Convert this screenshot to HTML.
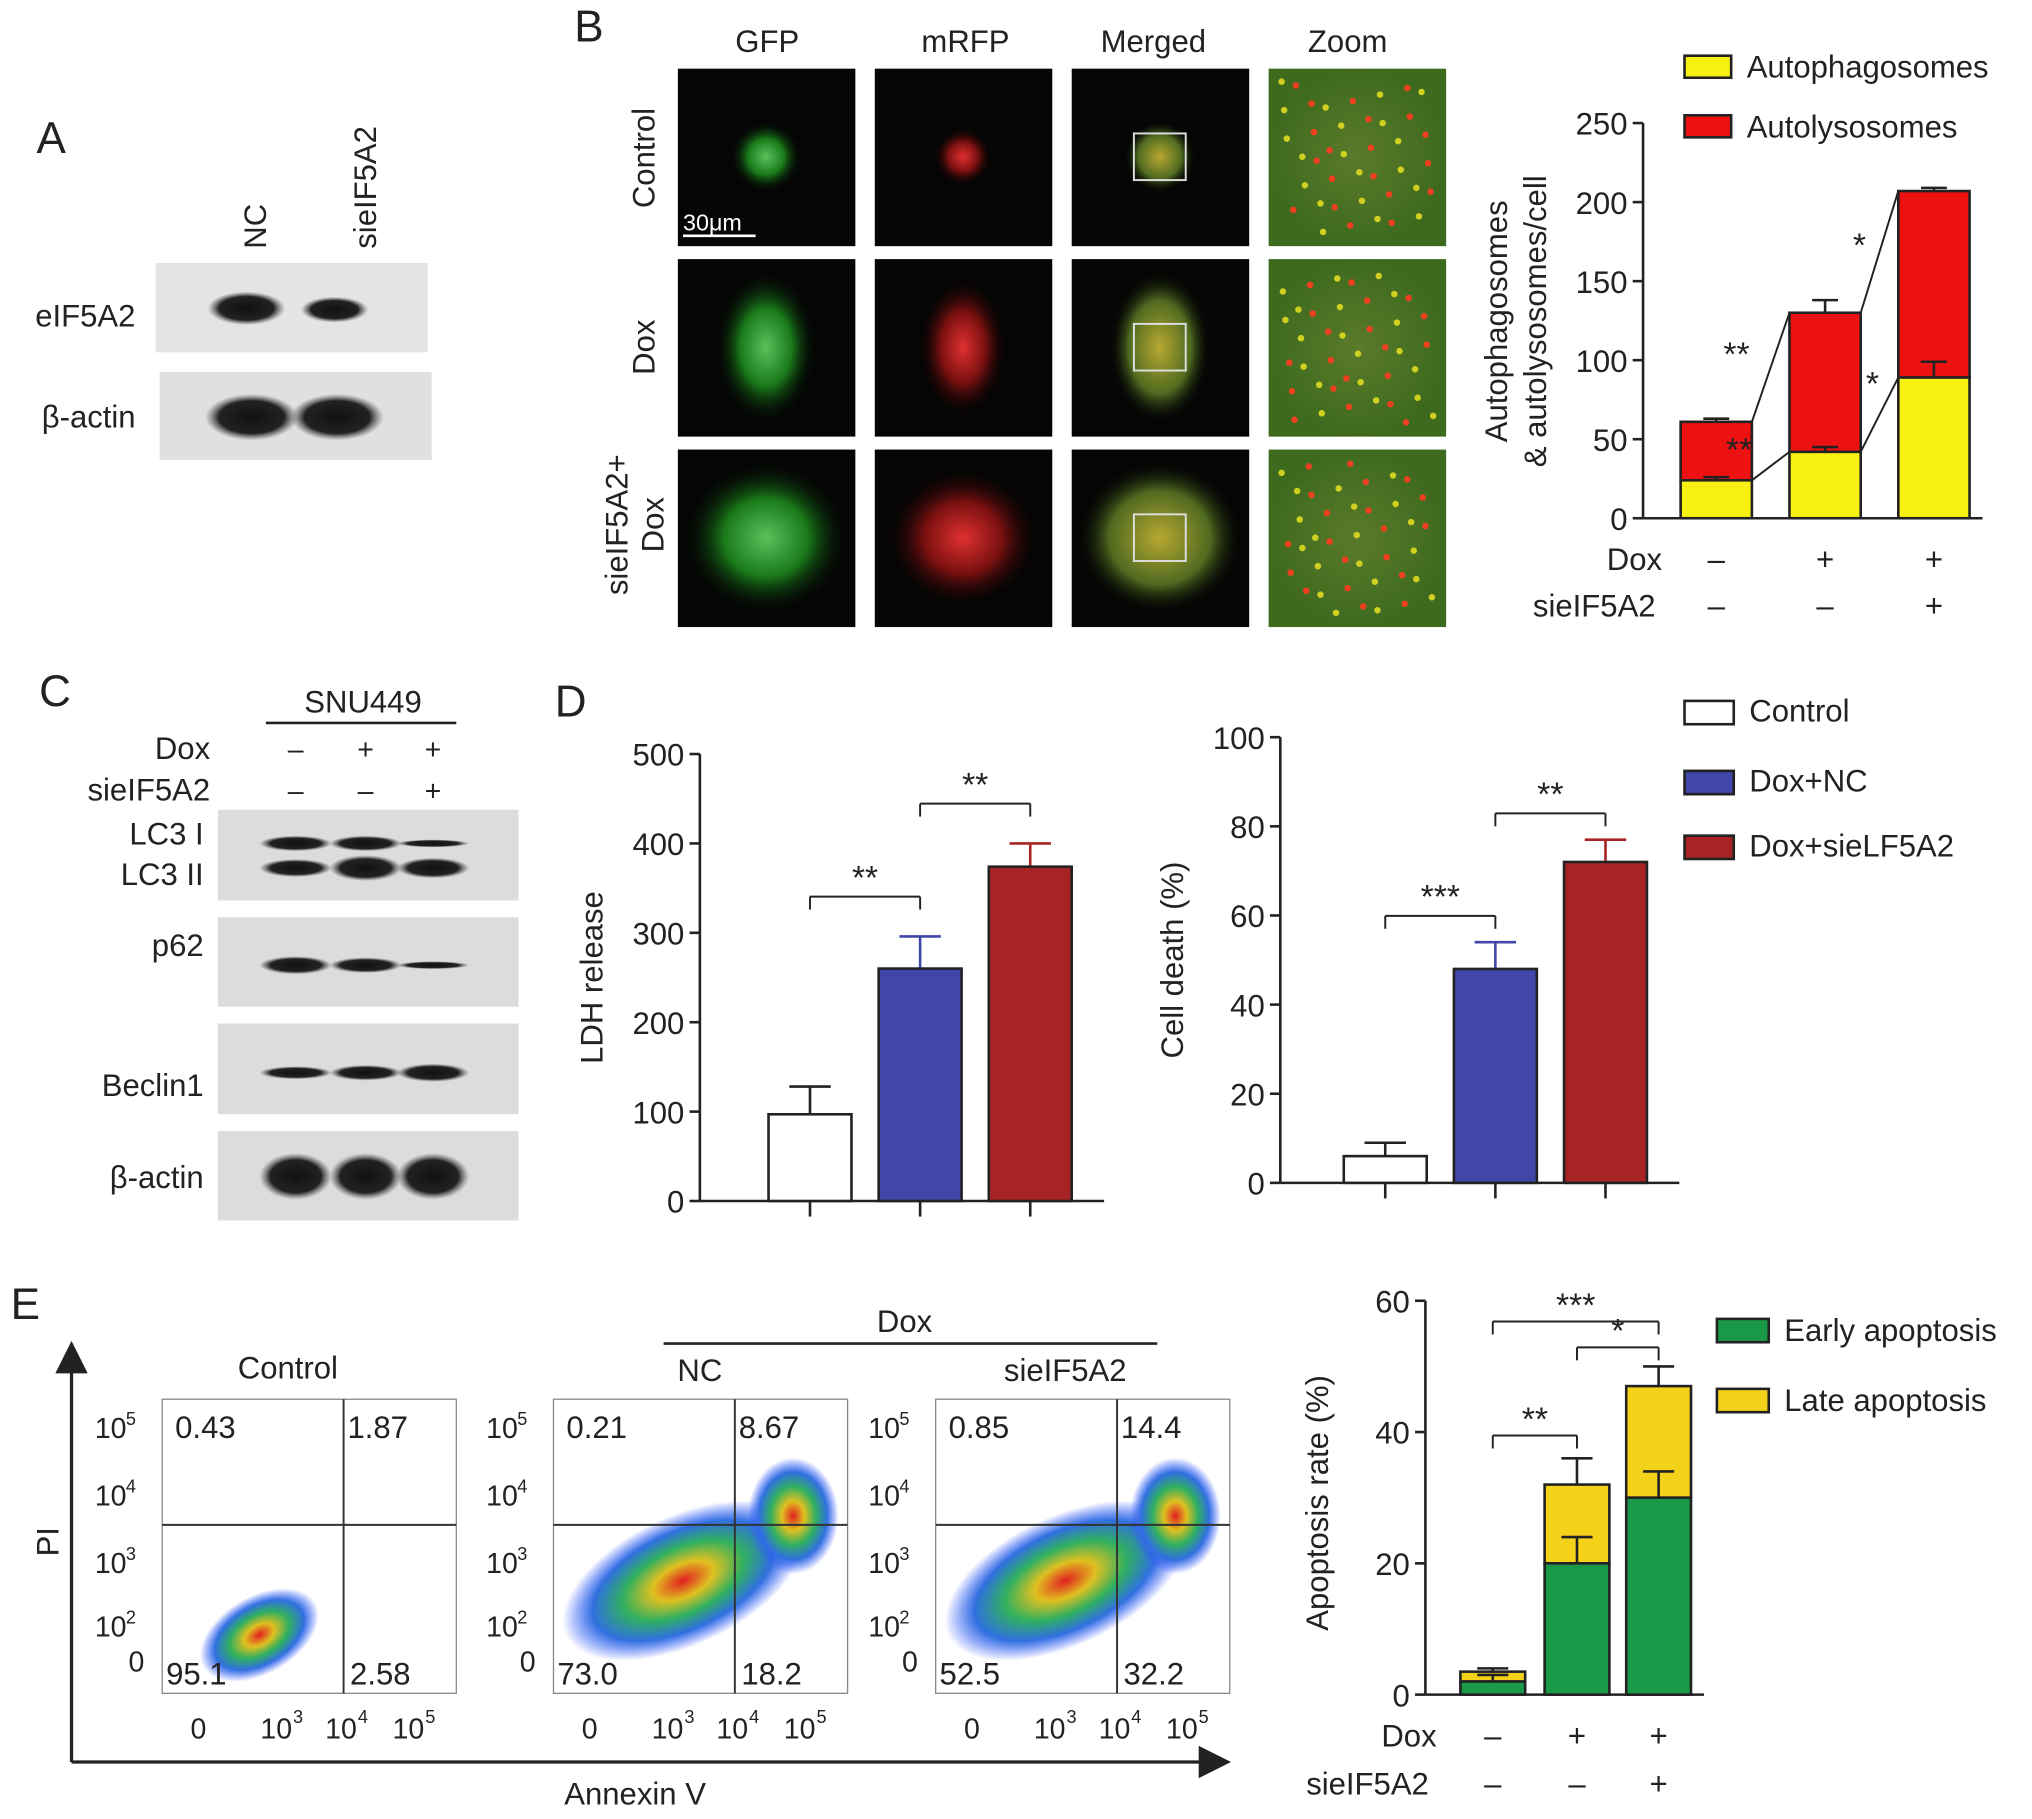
<!DOCTYPE html>
<html><head><meta charset="utf-8">
<style>
html,body{margin:0;padding:0;background:#fff;}
svg{display:block;font-family:"Liberation Sans",Arial,sans-serif;}
</style></head>
<body>
<svg id="fig" width="2032" height="1819" viewBox="0 0 1568 1404" xmlns="http://www.w3.org/2000/svg">
<defs>
 <radialGradient id="gblob"><stop offset="0" stop-color="#5cc05c"/><stop offset="0.5" stop-color="#1a7a1a"/><stop offset="1" stop-color="#000" stop-opacity="0"/></radialGradient>
 <radialGradient id="rblob"><stop offset="0" stop-color="#e03030"/><stop offset="0.5" stop-color="#7a1010"/><stop offset="1" stop-color="#000" stop-opacity="0"/></radialGradient>
 <radialGradient id="yblob"><stop offset="0" stop-color="#b8a830"/><stop offset="0.6" stop-color="#4f6a20"/><stop offset="1" stop-color="#000" stop-opacity="0"/></radialGradient>
 <radialGradient id="zoomg"><stop offset="0" stop-color="#5a7a2a"/><stop offset="1" stop-color="#3e6a1e"/></radialGradient>
 <radialGradient id="band"><stop offset="0" stop-color="#111"/><stop offset="0.7" stop-color="#222"/><stop offset="1" stop-color="#555" stop-opacity="0"/></radialGradient>
 <radialGradient id="flow"><stop offset="0" stop-color="#e02020"/><stop offset="0.25" stop-color="#e0c020"/><stop offset="0.5" stop-color="#30b060"/><stop offset="0.75" stop-color="#3070e0"/><stop offset="1" stop-color="#3050ff" stop-opacity="0"/></radialGradient>
 <marker id="arr" markerWidth="10" markerHeight="10" refX="8" refY="5" orient="auto"><path d="M0,0 L10,5 L0,10 z" fill="#222"/></marker>
</defs>
<g id="root"></g>
</svg>
<script>
// ---- chart data ----
const bCategories = ["Control","Dox","sieIF5A2+Dox"];
const bAutophagosomes = [24, 42, 89];
const bAutophagosomesErr = [26, 45, 99];
const bTotal = [61, 130, 207];
const bTotalErr = [63, 138, 209];
const bTicks = [0,50,100,150,200,250];

const ldhValues = [97, 260, 374];
const ldhErr = [128, 296, 400];
const ldhTicks = [0,100,200,300,400,500];

const deathValues = [6, 48, 72];
const deathErr = [9, 54, 77];
const deathTicks = [0,20,40,60,80,100];

const eEarly = [2, 20, 30];
const eEarlyErr = [3, 24, 34];
const eTotal = [3.5, 32, 47];
const eTotalErr = [4, 36, 50];
const eTicks = [0,20,40,60];

const flowQuads = [["0.43","1.87","95.1","2.58"],["0.21","8.67","73.0","18.2"],["0.85","14.4","52.5","32.2"]];

const NS="http://www.w3.org/2000/svg";
const root=document.getElementById('root');
function el(tag,attrs,parent,txt){const e=document.createElementNS(NS,tag);for(const k in attrs)e.setAttribute(k,attrs[k]);if(txt!==undefined)e.textContent=txt;(parent||root).appendChild(e);return e;}
function T(x,y,s,size,opt){opt=opt||{};const e=el('text',{x:x,y:y,'font-size':size,fill:opt.fill||'#222','text-anchor':opt.anchor||'start'},opt.parent,s);if(opt.rot)e.setAttribute('transform',`rotate(${opt.rot} ${x} ${y})`);return e;}
function L(x1,y1,x2,y2,w,c,p){const e=el('line',{x1,y1,x2,y2,stroke:c||'#222','stroke-width':w||2},p);return e;}
function R(x,y,w,h,f,s,p){const e=el('rect',{x,y,width:w,height:h,fill:f,stroke:s||'none','stroke-width':2},p);return e;}

[["A",28,118],["B",443,32],["C",30,545],["D",428,553],["E",8,1018]].forEach(a=>T(a[1],a[2],a[0],34,{name:'panel-label-'+a[0].toLowerCase()}));

// ---- Panel A blots ----
T(205,192,"NC",24,{rot:-90,name:'lane-label-nc'});
T(290,192,"sieIF5A2",24,{rot:-90,name:'lane-label-sieif5a2'});
let r=R(120,203,210,69,'#e4e4e4');
el('ellipse',{cx:190,cy:238,rx:30,ry:13,fill:'url(#band)'});
el('ellipse',{cx:258,cy:239,rx:26,ry:10,fill:'url(#band)'});
r=R(123,287,210,68,'#e0e0e0');
el('ellipse',{cx:194,cy:322,rx:36,ry:18,fill:'url(#band)'});
el('ellipse',{cx:260,cy:322,rx:36,ry:18,fill:'url(#band)'});
T(27,252,"eIF5A2",24,{name:'row-label-eif5a2'});
T(32,330,"β-actin",24,{name:'row-label-actin'});

// ---- Panel B images ----
const colX=[523,675,827,979], rowY=[53,200,347];
[["GFP",592],["mRFP",745],["Merged",890],["Zoom",1040]].forEach(c=>T(c[1],40,c[0],24,{anchor:'middle',name:'column-title'}));
[["Control",122],["Dox",268]].forEach((rl,i)=>T(505,rl[1],rl[0],24,{rot:-90,anchor:'middle',name:'row-label'}));
T(484,405,"sieIF5A2+",24,{rot:-90,anchor:'middle',name:'row-label'});
T(512,405,"Dox",24,{rot:-90,anchor:'middle',name:'row-label'});
const sizes=[[18,18],[30,50],[55,50]];
rowY.forEach((y,ri)=>{colX.forEach((x,ci)=>{
 const g=el('g',{});
 R(x,y,137,137,ci===3?'url(#zoomg)':'#050505',null,g);
 const cx=x+68,cy=y+68,s=sizes[ri];
 if(ci===0)el('ellipse',{cx,cy,rx:s[0]+10,ry:s[1]+10,fill:'url(#gblob)'},g);
 if(ci===1)el('ellipse',{cx,cy,rx:s[0]+5,ry:s[1]+5,fill:'url(#rblob)'},g);
 if(ci===2){el('ellipse',{cx,cy,rx:s[0]+10,ry:s[1]+10,fill:'url(#yblob)'},g);R(cx-20,cy-18,40,36,'none','#ddd',g).setAttribute('stroke-width',1.5);}
 if(ci===3){for(let k=0;k<40;k++){el('circle',{cx:x+10+((k*37+ri*13)%118),cy:y+10+((k*53+ri*29)%118),r:2.5,fill:k%2?'#f04020':'#d0d020'},g);} }
});});
L(527,182,583,182,2,'#fff');T(527,178,"30μm",18,{fill:'#fff',name:'scale-bar-label'});

// ---- Panel B bar chart ----
(function(){
 const ax=1268,y0=400,ppu=1.22,bx=[1297,1381,1465],bw=55;
 const Y=v=>y0-v*ppu;
 L(ax,Y(250),ax,y0,2);
 bTicks.forEach(t=>{L(ax-8,Y(t),ax,Y(t),2);T(ax-12,Y(t)+9,String(t),24,{anchor:'end',name:'y-tick-label'});});
 L(ax,y0,1530,y0,2);
 T(1163,248,"Autophagosomes",24,{rot:-90,anchor:'middle',name:'y-axis-title'});
 T(1193,248,"& autolysosomes/cell",24,{rot:-90,anchor:'middle',name:'y-axis-title'});
 bx.forEach((x,i)=>{
  L(x+bw/2,Y(bTotalErr[i]),x+bw/2,Y(bTotal[i]),2);L(x+bw/2-10,Y(bTotalErr[i]),x+bw/2+10,Y(bTotalErr[i]),2);
  let e=R(x,Y(bTotal[i]),bw,(bTotal[i]-bAutophagosomes[i])*ppu,'#ee1111','#222');
  e=R(x,Y(bAutophagosomes[i]),bw,bAutophagosomes[i]*ppu,'#f8f010','#222');
  L(x+bw/2,Y(bAutophagosomesErr[i]),x+bw/2,Y(bAutophagosomes[i]),2);L(x+bw/2-10,Y(bAutophagosomesErr[i]),x+bw/2+10,Y(bAutophagosomesErr[i]),2);
  if(i<2){L(x+bw,Y(bTotal[i]),bx[i+1],Y(bTotal[i+1]),1.5);L(x+bw,Y(bAutophagosomes[i]),bx[i+1],Y(bAutophagosomes[i+1]),1.5);}
 });
 T(1330,282,"**",26,{name:'sig'});T(1332,356,"**",26,{name:'sig'});T(1430,198,"*",26,{name:'sig'});T(1440,305,"*",26,{name:'sig'});
 let e=R(1300,43,36,17,'#f8f010','#222');
 T(1348,60,"Autophagosomes",24,{name:'legend-label'});
 e=R(1300,89,36,17,'#ee1111','#222');
 T(1348,106,"Autolysosomes",24,{name:'legend-label'});
 T(1240,440,"Dox",24,{name:'x-row-label'});T(1183,476,"sieIF5A2",24,{name:'x-row-label'});
 ["–","+","+"].forEach((s,i)=>T(bx[i]+bw/2,440,s,24,{anchor:'middle',name:'x-sign'}));
 ["–","–","+"].forEach((s,i)=>T(bx[i]+bw/2,476,s,24,{anchor:'middle',name:'x-sign'}));
})();

// ---- Panel C blots ----
T(280,550,"SNU449",24,{anchor:'middle',name:'cell-line-label'});L(205,558,352,558,2);
T(162,586,"Dox",24,{anchor:'end',name:'row-label'});T(162,618,"sieIF5A2",24,{anchor:'end',name:'row-label'});
const lx=[228,282,334];
["–","+","+"].forEach((s,i)=>T(lx[i],586,s,22,{anchor:'middle'}));["–","–","+"].forEach((s,i)=>T(lx[i],618,s,22,{anchor:'middle'}));
const blots=[[625,70,[["LC3 I",652],["LC3 II",683]]],[708,69,[["p62",738]]],[790,70,[["Beclin1",846]]],[873,69,[["β-actin",917]]]];
blots.forEach(b=>{const e=R(168,b[0],232,b[1],'#dcdcdc');b[2].forEach(l=>T(157,l[1],l[0],24,{anchor:'end'}));});
[[651,[6,6,3]],[670,[7,10,8]],[745,[7,6,3]],[828,[5,6,7]],[908,[18,18,18]]].forEach(bd=>lx.forEach((x,i)=>el('ellipse',{cx:x,cy:bd[0],rx:28,ry:bd[1][i],fill:'url(#band)'})));

// ---- Panel D charts ----
function simpleBars(ax,y0,yTop,maxV,ticks,vals,errs,bx,title,sigs){
 const ppu=(y0-yTop)/maxV,Y=v=>y0-v*ppu,bw=64,cols=['#fff','#4047a8','#a82424'];
 L(ax,yTop,ax,y0,2);ticks.forEach(t=>{L(ax-8,Y(t),ax,Y(t),2);T(ax-12,Y(t)+9,String(t),24,{anchor:'end',name:'y-tick-label'});});
 L(ax,y0,bx[2]+bw+25,y0,2);
 T(ax-75,(y0+yTop)/2,title,24,{rot:-90,anchor:'middle',name:'y-axis-title'});
 bx.forEach((x,i)=>{L(x+bw/2,y0,x+bw/2,y0+12,2);
  L(x+bw/2,Y(errs[i]),x+bw/2,Y(vals[i]),2,i?cols[i]:'#222');L(x+bw/2-16,Y(errs[i]),x+bw/2+16,Y(errs[i]),2,i?cols[i]:'#222');
  const e=R(x,Y(vals[i]),bw,vals[i]*ppu,cols[i],'#222');});
 sigs.forEach(s=>{const yb=Y(s[2]);L(bx[s[0]]+bw/2,yb,bx[s[0]]+bw/2,yb-10,1.5);L(bx[s[0]]+bw/2,yb-10,bx[s[1]]+bw/2,yb-10,1.5);L(bx[s[1]]+bw/2,yb-10,bx[s[1]]+bw/2,yb,1.5);T((bx[s[0]]+bx[s[1]])/2+bw/2,yb-16,s[3],26,{anchor:'middle',name:'sig'});});
}
simpleBars(540,927,582,500,ldhTicks,ldhValues,ldhErr,[593,678,763],"LDH release",[[0,1,ldhErr[1]+30,"**"],[1,2,ldhErr[2]+30,"**"]]);
simpleBars(988,913,569,100,deathTicks,deathValues,deathErr,[1037,1122,1207],"Cell death (%)",[[0,1,deathErr[1]+3,"***"],[1,2,deathErr[2]+3,"**"]]);
[["Control",'#fff',555],["Dox+NC",'#4047a8',609],["Dox+sieLF5A2",'#a82424',659]].forEach(l=>{const e=R(1300,l[2]-14,38,18,l[1],'#222');T(1350,l[2]+2,l[0],24,{name:'legend-label'});});

// ---- Panel E flow plots ----
L(55,1360,55,1040,2.5).setAttribute('marker-end','url(#arr)');
L(55,1360,945,1360,2.5).setAttribute('marker-end','url(#arr)');
T(45,1190,"PI",24,{rot:-90,anchor:'middle',name:'y-axis-title'});
T(490,1393,"Annexin V",24,{anchor:'middle',name:'x-axis-title'});
T(222,1064,"Control",24,{anchor:'middle'});T(540,1066,"NC",24,{anchor:'middle'});T(822,1066,"sieIF5A2",24,{anchor:'middle'});
T(698,1028,"Dox",24,{anchor:'middle'});L(512,1037,893,1037,2);
const fx=[125,427,722];
fx.forEach((x,i)=>{
 const g=el('g',{});
 R(x,1080,227,227,'#fff','#888',g).setAttribute('stroke-width',1);
 if(i===0){el('ellipse',{cx:x+75,cy:1262,rx:50,ry:30,fill:'url(#flow)',transform:`rotate(-30 ${x+75} 1262)`},g);}
 else{el('ellipse',{cx:x+100,cy:1220,rx:100,ry:50,fill:'url(#flow)',transform:`rotate(-25 ${x+100} 1220)`},g);el('ellipse',{cx:x+185,cy:1170,rx:35,ry:45,fill:'url(#flow)'},g);}
 L(x,1177,x+227,1177,1.5,'#333',g);L(x+140,1080,x+140,1307,1.5,'#333',g);
 const q=flowQuads[i];T(x+10,1110,q[0],24);T(x+143,1110,q[1],24);T(x+3,1300,q[2],24);T(x+145,1300,q[3],24);
 [["10",1110,"5"],["10",1162,"4"],["10",1214,"3"],["10",1263,"2"]].forEach(t=>{T(x-52,t[1],t[0],22);T(x-28,t[1]-10,t[2],14);});
 T(x-26,1290,"0",22);
 T(x+28,1342,"0",22,{anchor:'middle'});
 [[98,"3"],[148,"4"],[200,"5"]].forEach(t=>{T(x+t[0]-10,1342,"10",22,{anchor:'middle'});T(x+t[0]+3,1330,t[1],14);});
});

// ---- Panel E bar chart ----
(function(){
 const ax=1100,y0=1308,yTop=1004,ppu=(y0-yTop)/60,Y=v=>y0-v*ppu,bx=[1127,1192,1255],bw=50;
 L(ax,yTop,ax,y0,2);eTicks.forEach(t=>{L(ax-8,Y(t),ax,Y(t),2);T(ax-12,Y(t)+9,String(t),24,{anchor:'end',name:'y-tick-label'});});
 L(ax,y0,1315,y0,2);
 T(1025,1160,"Apoptosis rate (%)",24,{rot:-90,anchor:'middle',name:'y-axis-title'});
 bx.forEach((x,i)=>{
  L(x+bw/2,Y(eTotalErr[i]),x+bw/2,Y(eTotal[i]),2);L(x+bw/2-12,Y(eTotalErr[i]),x+bw/2+12,Y(eTotalErr[i]),2);
  let e=R(x,Y(eTotal[i]),bw,(eTotal[i]-eEarly[i])*ppu,'#f5d21a','#222');
  e=R(x,Y(eEarly[i]),bw,eEarly[i]*ppu,'#1a9a48','#222');
  L(x+bw/2,Y(eEarlyErr[i]),x+bw/2,Y(eEarly[i]),2);L(x+bw/2-12,Y(eEarlyErr[i]),x+bw/2+12,Y(eEarlyErr[i]),2);
 });
 [[0,1,1108,"**"],[1,2,1040,"*"],[0,2,1020,"***"]].forEach(s=>{L(bx[s[0]]+bw/2,s[2]+10,bx[s[0]]+bw/2,s[2],1.5);L(bx[s[0]]+bw/2,s[2],bx[s[1]]+bw/2,s[2],1.5);L(bx[s[1]]+bw/2,s[2],bx[s[1]]+bw/2,s[2]+10,1.5);T((bx[s[0]]+bx[s[1]])/2+bw/2,s[2]-4,s[3],26,{anchor:'middle',name:'sig'});});
 T(1066,1348,"Dox",24,{name:'x-row-label'});T(1008,1385,"sieIF5A2",24,{name:'x-row-label'});
 ["–","+","+"].forEach((s,i)=>T(bx[i]+bw/2,1348,s,24,{anchor:'middle'}));["–","–","+"].forEach((s,i)=>T(bx[i]+bw/2,1385,s,24,{anchor:'middle'}));
 let e=R(1325,1018,40,18,'#1a9a48','#222');T(1377,1035,"Early apoptosis",24,{name:'legend-label'});
 e=R(1325,1072,40,18,'#f5d21a','#222');T(1377,1089,"Late apoptosis",24,{name:'legend-label'});
})();
</script>
</body></html>
